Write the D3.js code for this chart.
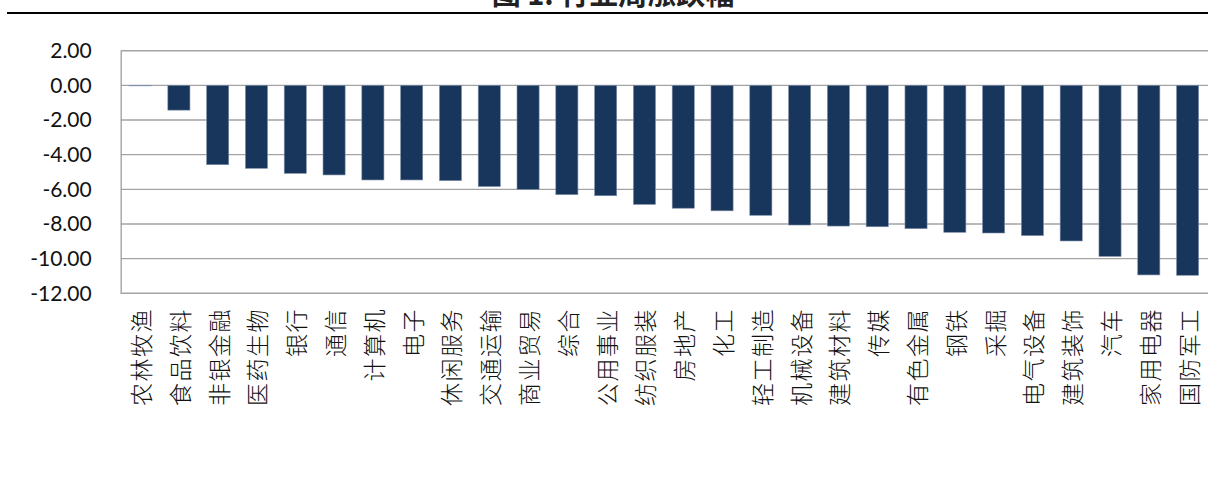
<!DOCTYPE html>
<html>
<head>
<meta charset="utf-8">
<script src="https://cdn.jsdelivr.net/npm/d3@7"></script>
<style>
  body { margin: 0; background: #fff; }
  svg { display: block; }
</style>
</head>
<body>
<svg id="chart" width="1208" height="486"></svg>
<script>
// Data
const categories = ["农林牧渔", "食品饮料", "非银金融", "医药生物", "银行", "通信", "计算机", "电子",
  "休闲服务", "交通运输", "商业贸易", "综合", "公用事业", "纺织服装", "房地产", "化工",
  "轻工制造", "机械设备", "建筑材料", "传媒", "有色金属", "钢铁", "采掘", "电气设备",
  "建筑装饰", "汽车", "家用电器", "国防军工"];
const values = [-0.03, -1.43, -4.58, -4.79, -5.08, -5.17, -5.46, -5.46,
  -5.50, -5.84, -6.00, -6.31, -6.37, -6.87, -7.09, -7.24,
  -7.50, -8.06, -8.12, -8.16, -8.27, -8.48, -8.52, -8.67,
  -8.98, -9.87, -10.94, -10.96];
const yTicks = [2, 0, -2, -4, -6, -8, -10, -12];
const title = "图 1: 行业周涨跌幅";

const svg = d3.select("#chart");
const plotLeft = 120.7, plotRight = 1207, plotTop = 50.7, plotBottom = 293.3;

// Title (cut off at the top edge, as in the source) and rule
svg.append("text")
  .attr("x", 613)
  .attr("y", 5)
  .attr("text-anchor", "middle")
  .style("font-family", "'Noto Sans CJK SC'")
  .style("font-weight", "bold")
  .style("font-size", "29px")
  .attr("fill", "#222")
  .text(title);

svg.append("line")
  .attr("x1", 7).attr("x2", 1208)
  .attr("y1", 13).attr("y2", 13)
  .attr("stroke", "#000")
  .attr("stroke-width", 2.2);

// Scales
const x = d3.scaleBand()
  .domain(categories)
  .range([plotLeft, plotRight])
  .paddingInner(0.43)
  .paddingOuter(0.215);

const y = d3.scaleLinear()
  .domain([-12, 2])
  .range([plotBottom, plotTop]);

// Grid lines
svg.append("g")
  .selectAll("line")
  .data(yTicks).enter()
  .append("line")
  .attr("x1", plotLeft).attr("x2", 1208)
  .attr("y1", d => y(d)).attr("y2", d => y(d))
  .attr("stroke", "#a3a3a3")
  .attr("stroke-width", 1.4);

// Y axis
const yAxis = svg.append("g")
  .attr("transform", "translate(" + plotLeft + ",0)")
  .call(d3.axisLeft(y).tickValues(yTicks).tickSize(0).tickPadding(29));
yAxis.select(".domain").attr("stroke", "#a3a3a3").attr("stroke-width", 1.4);
yAxis.selectAll("text")
  .style("font-family", "Lato")
  .style("font-size", "21px")
  .attr("fill", "#111")
  .text(d => d.toFixed(2));

// Bars
svg.append("g")
  .selectAll("rect")
  .data(values).enter()
  .append("rect")
  .attr("x", (d, i) => x(categories[i]))
  .attr("y", d => y(Math.max(0, d)))
  .attr("width", x.bandwidth())
  .attr("height", d => Math.abs(y(d) - y(0)))
  .attr("fill", "#18365c")
  .attr("stroke", "#7f90aa")
  .attr("stroke-width", 0.6);

// Category labels
svg.append("g")
  .selectAll("text")
  .data(categories).enter()
  .append("text")
  .attr("transform", d => "translate(" + (x(d) + x.bandwidth() / 2) + ",308) rotate(-90)")
  .attr("text-anchor", "end")
  .attr("dominant-baseline", "central")
  .style("font-family", "'Noto Sans CJK SC'")
  .style("font-size", "23px")
  .style("letter-spacing", "1.5px")
  .style("font-weight", "300")
  .attr("fill", "#111")
  .text(d => d);
</script>
</body>
</html>
